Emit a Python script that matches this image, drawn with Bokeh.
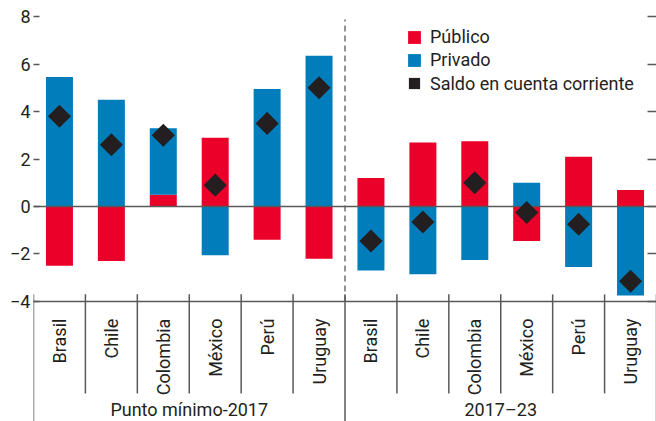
import math
from bokeh.plotting import figure
from bokeh.models import (Range1d, LinearAxis, FixedTicker, Legend, LegendItem,
                          ColumnDataSource)
from bokeh.core.properties import value
from bokeh.embed import file_html
from bokeh.resources import INLINE

# ---------------- data ----------------
countries = ["Brasil", "Chile", "Colombia", "México", "Perú", "Uruguay"]
periods = ["Punto mínimo-2017", "2017–23"]
publico_1 = [-2.5, -2.3, 0.5, 2.9, -1.4, -2.2]
privado_1 = [5.45, 4.5, 2.8, -2.05, 4.95, 6.35]
saldo_1 = [3.8, 2.6, 3.0, 0.9, 3.5, 5.0]
publico_2 = [1.2, 2.7, 2.75, -1.45, 2.1, 0.7]
privado_2 = [-2.7, -2.85, -2.25, 1.0, -2.55, -3.75]
saldo_2 = [-1.45, -0.65, 1.0, -0.25, -0.75, -3.15]
y_ticks = [-4, -2, 0, 2, 4, 6, 8]
y_tick_labels = ["−4", "−2", "0", "2", "4", "6", "8"]
series_names = ["Público", "Privado", "Saldo en cuenta corriente"]

# ---------------- styles ----------------
FONT = "Roboto"
FS = "18px"
RED = "#EB0029"
BLUE = "#007DBA"
DARK = "#231F20"
GREY = "#58595B"

cats = countries + countries
n = len(cats)
xc = [i + 0.5 for i in range(n)]
pub = publico_1 + publico_2
priv = privado_1 + privado_2
saldo = saldo_1 + saldo_2
pub_bottom = [0.0] * n
pub_top = pub
priv_bottom = [pb if (pb * pv > 0) else 0.0 for pb, pv in zip(pub, priv)]
priv_top = [b + v for b, v in zip(priv_bottom, priv)]

src = ColumnDataSource(dict(x=xc, cat=cats, pub_bottom=pub_bottom, pub_top=pub_top,
                            priv_bottom=priv_bottom, priv_top=priv_top, saldo=saldo))

y_min = y_ticks[0]
p = figure(width=656, height=421, x_range=Range1d(0, n), y_range=Range1d(-9.053, 8.674),
           output_backend="svg", toolbar_location=None, x_axis_location=None,
           min_border_left=33, min_border_right=0, min_border_top=0, min_border_bottom=0,
           outline_line_color=None)
p.grid.grid_line_color = None

ax = p.yaxis[0]
ax.ticker = FixedTicker(ticks=y_ticks)
ax.major_label_overrides = dict(zip(y_ticks, y_tick_labels))
ax.major_tick_in = 6
ax.major_tick_out = 0
ax.axis_line_color = None
ax.minor_tick_line_color = None
ax.major_tick_line_color = GREY
ax.major_tick_line_width = 1.3
ax.major_label_standoff = 3
ax.major_label_text_font = FONT
ax.major_label_text_font_size = FS
ax.major_label_text_color = DARK

rax = LinearAxis(ticker=FixedTicker(ticks=y_ticks),
                 major_label_overrides={t: "" for t in y_ticks},
                 major_tick_in=9, major_tick_out=0, axis_line_color=None,
                 minor_tick_line_color=None, major_tick_line_color=GREY,
                 major_tick_line_width=1.3, major_label_standoff=0)
p.add_layout(rax, "right")

r_pub = p.vbar(x="x", width=0.52, bottom="pub_bottom", top="pub_top", source=src,
               fill_color=RED, line_color=None)
r_priv = p.vbar(x="x", width=0.52, bottom="priv_bottom", top="priv_top", source=src,
                fill_color=BLUE, line_color=None)
p.hspan(y=[0], line_color=GREY, line_width=1.5)
p.hspan(y=[y_min], line_color=GREY, line_width=1.5)
r_saldo = p.scatter(x="x", y="saldo", source=src, marker="square", size=16.3,
                    angle=math.pi / 4, fill_color=DARK, line_color=None)

# dashed divider between the two periods
half = len(countries)
p.segment(x0=[half], y0=[y_min], x1=[half], y1=[7.87], line_color=GREY,
          line_width=1.3, line_dash="6 4")

# category separators
inner = [i for i in range(n + 1) if i % half != 0]
outer = [i for i in range(n + 1) if i % half == 0]
p.segment(x0=inner, y0=[-3.7] * len(inner), x1=inner, y1=[-7.87] * len(inner),
          line_color=GREY, line_width=1.5)
p.segment(x0=outer, y0=[-3.7] * len(outer), x1=outer, y1=[-9.1] * len(outer),
          line_color=GREY, line_width=1.5)

# category labels (rotated) and period labels
p.text(x="x", y=-4.72, text="cat", source=src, angle=math.pi / 2, text_align="right",
       text_baseline="middle", text_font=value(FONT), text_font_size=value(FS),
       text_color=DARK)
p.text(x=[half / 2, half + half / 2], y=[-8.55, -8.55], text=periods, text_align="center",
       text_baseline="middle", text_font=value(FONT), text_font_size=value(FS),
       text_color=DARK)

leg1 = Legend(items=[LegendItem(label=series_names[0], renderers=[r_pub]),
                     LegendItem(label=series_names[1], renderers=[r_priv])],
              location=(373, 350), glyph_width=16, glyph_height=16, label_standoff=8,
              padding=0, margin=0, spacing=0, border_line_color=None,
              background_fill_alpha=0, label_text_font=FONT, label_text_font_size=FS,
              label_text_color=DARK, label_height=23)
leg2 = Legend(items=[LegendItem(label=series_names[2], renderers=[r_saldo])],
              location=(367, 324), glyph_width=28, glyph_height=28, label_standoff=2,
              padding=0, margin=0, spacing=0, border_line_color=None,
              background_fill_alpha=0, label_text_font=FONT, label_text_font_size=FS,
              label_text_color=DARK, label_height=23)
p.add_layout(leg1)
p.add_layout(leg2)

open("out.html", "w").write(file_html(p, INLINE))
